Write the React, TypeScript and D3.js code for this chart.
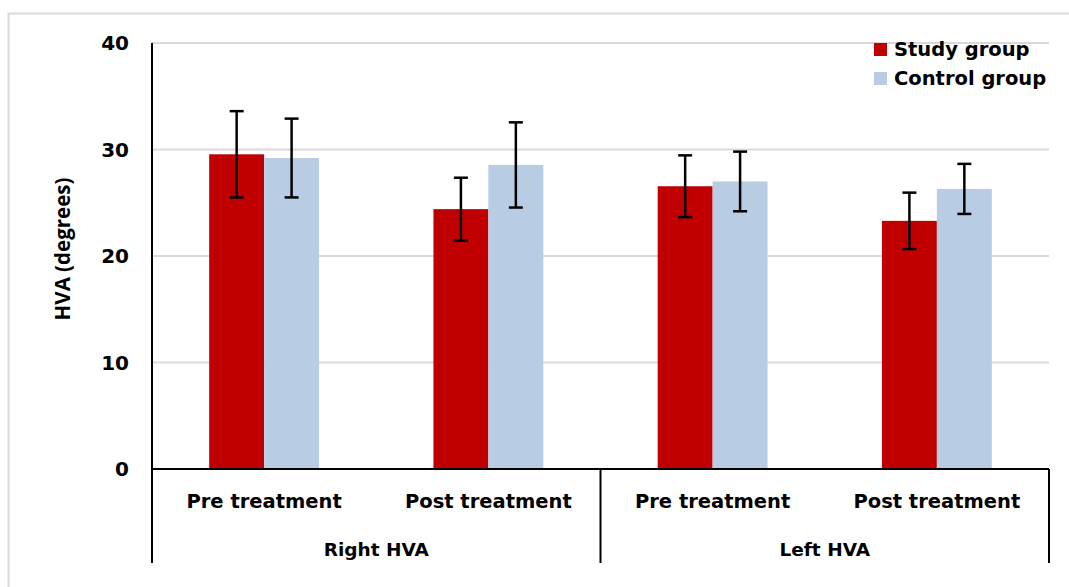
import React, { useEffect, useRef } from 'react';
import * as d3 from 'd3';

// categories (two levels) and series
const groups = ['Right HVA', 'Left HVA'];
const phases = ['Pre treatment', 'Post treatment'];
const categories = ['R-Pre', 'R-Post', 'L-Pre', 'L-Post'];
const seriesNames = ['Study group', 'Control group'];
const seriesColors = ['#c00000', '#b8cce4'];

const studyMeans = [29.55, 24.4, 26.55, 23.3];
const studySD = [4.05, 2.95, 2.9, 2.65];
const controlMeans = [29.2, 28.55, 27.0, 26.3];
const controlSD = [3.7, 4.0, 2.8, 2.35];

const yTicks = [0, 10, 20, 30, 40];

export default function App() {
  const ref = useRef<SVGSVGElement>(null);

  useEffect(() => {
    drawChart();
  }, []);

  function drawChart() {
    const width = 1069, height = 587;
    const left = 152, right = 1049, top = 43, bottom = 469;
    const font = "'DejaVu Sans', Verdana, sans-serif";

    const svg = d3.select(ref.current);
    svg.selectAll('*').remove();

    // outer frame
    svg.append('rect')
      .attr('x', 8.5).attr('y', 13.5)
      .attr('width', width + 20).attr('height', height + 20)
      .attr('fill', '#fff')
      .attr('stroke', '#d9d9d9').attr('stroke-width', 2);

    const y = d3.scaleLinear().domain([0, 40]).range([bottom, top]);
    const x = d3.scaleBand().domain(categories).range([left, right]).paddingInner(0.51).paddingOuter(0.255);
    const xs = d3.scaleBand().domain(seriesNames).range([0, x.bandwidth()]);

    // gridlines
    svg.append('g')
      .selectAll('line')
      .data(yTicks.filter(d => d > 0))
      .enter()
      .append('line')
      .attr('x1', left).attr('x2', right)
      .attr('y1', d => y(d)).attr('y2', d => y(d))
      .attr('stroke', '#d9d9d9').attr('stroke-width', 2);

    // tick labels
    svg.append('g')
      .selectAll('text')
      .data(yTicks)
      .enter()
      .append('text')
      .attr('x', 129)
      .attr('y', d => y(d) + 7)
      .attr('text-anchor', 'end')
      .style('font-family', font)
      .style('font-weight', 'bold')
      .style('font-size', '20px')
      .style('fill', '#000')
      .text(d => d);

    // y title
    svg.append('text')
      .attr('transform', 'translate(70,249) rotate(-90)')
      .attr('text-anchor', 'middle')
      .style('font-family', "'Open Sans', sans-serif")
      .style('font-weight', 700)
      .style('font-size', '20.5px')
      .text('HVA (degrees)');

    const rows = categories.map((c, i) => [
      { cat: c, s: seriesNames[0], v: studyMeans[i], e: studySD[i], col: seriesColors[0] },
      { cat: c, s: seriesNames[1], v: controlMeans[i], e: controlSD[i], col: seriesColors[1] },
    ]).flat();

    // bars
    svg.append('g')
      .selectAll('rect')
      .data(rows)
      .enter()
      .append('rect')
      .attr('x', d => (x(d.cat) as number) + (xs(d.s) as number))
      .attr('width', xs.bandwidth())
      .attr('y', d => y(d.v))
      .attr('height', d => y(0) - y(d.v))
      .attr('fill', d => d.col);

    // error bars
    const eb = svg.append('g')
      .selectAll('g')
      .data(rows)
      .enter()
      .append('g')
      .attr('transform', d => 'translate(' + ((x(d.cat) as number) + (xs(d.s) as number) + xs.bandwidth() / 2) + ',0)');
    eb.append('line')
      .attr('y1', d => y(d.v + d.e)).attr('y2', d => y(d.v - d.e))
      .attr('stroke', '#000').attr('stroke-width', 2.5);
    eb.append('line')
      .attr('x1', -7).attr('x2', 7)
      .attr('y1', d => y(d.v + d.e)).attr('y2', d => y(d.v + d.e))
      .attr('stroke', '#000').attr('stroke-width', 2.5);
    eb.append('line')
      .attr('x1', -7).attr('x2', 7)
      .attr('y1', d => y(d.v - d.e)).attr('y2', d => y(d.v - d.e))
      .attr('stroke', '#000').attr('stroke-width', 2.5);

    // axes
    const axisBottom = 563;
    const mid = (left + right) / 2;
    svg.append('line')
      .attr('x1', left).attr('x2', left).attr('y1', top).attr('y2', axisBottom)
      .attr('stroke', '#000').attr('stroke-width', 2);
    svg.append('line')
      .attr('x1', left).attr('x2', right).attr('y1', bottom).attr('y2', bottom)
      .attr('stroke', '#000').attr('stroke-width', 2);
    [mid, right].forEach(px => {
      svg.append('line')
        .attr('x1', px).attr('x2', px).attr('y1', bottom).attr('y2', axisBottom)
        .attr('stroke', '#000').attr('stroke-width', 2);
    });

    // category labels
    svg.append('g')
      .selectAll('text')
      .data(categories)
      .enter()
      .append('text')
      .attr('x', d => (x(d) as number) + x.bandwidth() / 2)
      .attr('y', 508)
      .attr('text-anchor', 'middle')
      .style('font-family', font)
      .style('font-weight', 'bold')
      .style('font-size', '19.5px')
      .text((d, i) => phases[i % 2]);

    svg.append('g')
      .selectAll('text')
      .data(groups)
      .enter()
      .append('text')
      .attr('x', (d, i) => i === 0 ? (left + mid) / 2 : (mid + right) / 2)
      .attr('y', 556)
      .attr('text-anchor', 'middle')
      .style('font-family', font)
      .style('font-weight', 'bold')
      .style('font-size', '18.5px')
      .text(d => d);

    // legend
    const lg = svg.append('g')
      .selectAll('g')
      .data(seriesNames)
      .enter()
      .append('g')
      .attr('transform', (d, i) => 'translate(874,' + (43 + i * 29) + ')');
    lg.append('rect')
      .attr('width', 13).attr('height', 13)
      .attr('fill', (d, i) => seriesColors[i]);
    lg.append('text')
      .attr('x', 20).attr('y', 13)
      .style('font-family', font)
      .style('font-weight', 'bold')
      .style('font-size', '19.5px')
      .text(d => d);
  }

  return (
    <svg ref={ref} width={1069} height={587}
      style={{ position: 'fixed', left: 0, top: 0, background: '#fff' }} />
  );
}
